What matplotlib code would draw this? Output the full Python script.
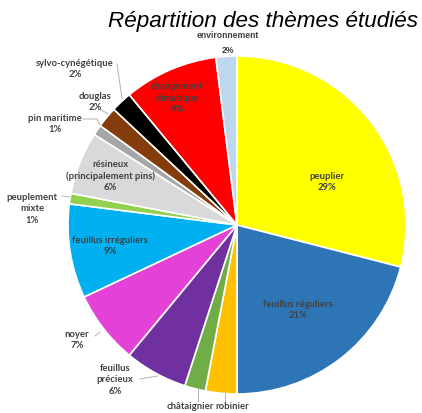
import matplotlib
matplotlib.use('agg')
import matplotlib.pyplot as plt

# donnees du camembert (sens horaire depuis le haut)
themes = ["peuplier", "feuillus réguliers", "robinier", "châtaignier",
          "feuillus\nprécieux", "noyer", "feuillus irréguliers",
          "peuplement\nmixte", "résineux\n(principalement pins)",
          "pin maritime", "douglas", "sylvo-cynégétique",
          "changement\nclimatique", "environnement"]
parts = [29, 21, 3, 2, 6, 7, 9, 1, 6, 1, 2, 2, 9, 2]
couleurs = ["#FFFF00", "#2E75B6", "#FFC000", "#70AD47", "#7030A0", "#E442D6",
            "#00B0F0", "#92D050", "#D9D9D9", "#A6A6A6", "#843C0C", "#000000",
            "#FF0000", "#BDD7EE"]
afficher_pct = [True, True, False, False, True, True, True, True, True,
                True, True, True, True, True]

# position des etiquettes (unites du rayon) et traits de rappel
pos_etiq = [(0.533, 0.260), (0.361, -0.497), (-0.030, -1.071), (-0.278, -1.071),
            (-0.722, -0.911), (-0.947, -0.675), (-0.751, -0.118), (-1.213, 0.101),
            (-0.751, 0.296), (-1.077, 0.604), (-0.840, 0.734), (-0.959, 0.929),
            (-0.355, 0.757), (-0.053, 1.083)]
traits = [None, None,
          [(-0.071, -0.994), (-0.071, -1.041)],
          [(-0.231, -0.970), (-0.231, -1.041)],
          [(-0.574, -0.911), (-0.467, -0.893)],
          [(-0.840, -0.657), (-0.811, -0.633)],
          None,
          [(-1.036, 0.172), (-0.988, 0.166)],
          None,
          [(-0.911, 0.627), (-0.828, 0.627), (-0.811, 0.592)],
          [(-0.811, 0.686), (-0.763, 0.657)],
          [(-0.710, 0.953), (-0.680, 0.746)],
          None, None]

fig = plt.figure(figsize=(4.22, 4.14), dpi=100)
W, H = 422, 414
cx, cy, r = 237, 226, 169
ax = fig.add_axes([(cx - r) / W, (H - cy - r) / H, 2 * r / W, 2 * r / H])
ax.pie(parts, colors=couleurs, startangle=90, counterclock=False,
       wedgeprops=dict(edgecolor="white", linewidth=1.2))
ax.set_xlim(-1, 1)
ax.set_ylim(-1, 1)
ax.set_aspect('equal')
ax.axis('off')

for i, nom in enumerate(themes):
    txt = nom
    if afficher_pct[i]:
        txt = nom + "\n" + str(parts[i]) + "%"
    x, y = pos_etiq[i]
    if nom == "environnement":
        # cette etiquette est dans une autre police
        ax.text(x, y, txt, ha='center', va='center', fontsize=6.2,
                fontweight='bold', family='Liberation Sans', color='#404040',
                linespacing=1.9)
    else:
        ax.text(x, y, txt, ha='center', va='center', fontsize=6.8,
                fontweight='bold', family='Lato', color='#404040',
                linespacing=1.3)
    if traits[i] is not None:
        xs = [p[0] for p in traits[i]]
        ys = [p[1] for p in traits[i]]
        ax.plot(xs, ys, color='#A6A6A6', lw=0.6, clip_on=False)

fig.text(263 / W, 1 - 22 / H, "Répartition des thèmes étudiés",
         ha='center', va='center', fontsize=16.2, style='italic',
         family='Liberation Sans', color='black')

fig.savefig('out.png', dpi=100)
